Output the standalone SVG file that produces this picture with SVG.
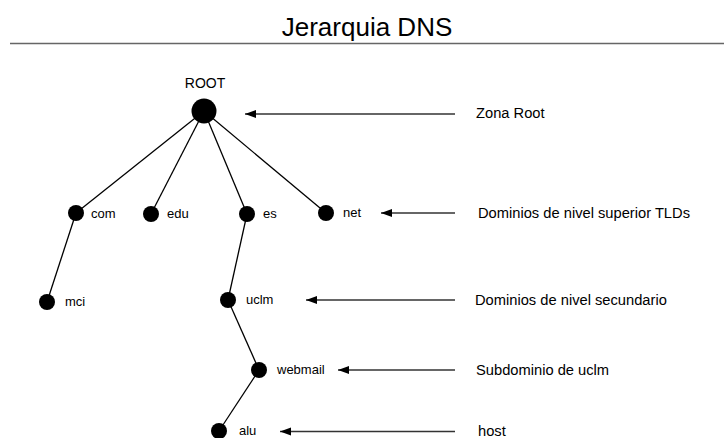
<svg xmlns="http://www.w3.org/2000/svg" width="724" height="438" viewBox="0 0 724 438">
<style>
text{font-family:"Liberation Sans",Arial,sans-serif;fill:#000}
.t{font-size:26px}
.n{font-size:13px}
.r{font-size:14px}
.l{font-size:14.7px}
.dot{fill:#000}
.edge{stroke:#000;stroke-width:1.3;fill:none}
.arr{stroke:#333;stroke-width:1.5;fill:none;marker-end:url(#ah)}
</style>
<defs>
<marker id="ah" markerUnits="userSpaceOnUse" markerWidth="12" markerHeight="10" refX="11" refY="5" orient="auto">
<path d="M0,1 L11,5 L0,9 Z" fill="#000"/>
</marker>
</defs>
<rect width="724" height="438" fill="#fff"/>
<g id="title">
<text class="t" x="367" y="36" text-anchor="middle">Jerarquia DNS</text>
<line x1="10" y1="43.5" x2="724" y2="43.5" stroke="#666" stroke-width="1.6"/>
</g>
<g id="connectors">
<line class="edge" x1="204" y1="111" x2="76" y2="213"/>
<line class="edge" x1="204" y1="111" x2="151" y2="214"/>
<line class="edge" x1="204" y1="111" x2="247" y2="214"/>
<line class="edge" x1="204" y1="111" x2="326" y2="213"/>
<line class="edge" x1="76" y1="213" x2="47" y2="302"/>
<line class="edge" x1="247" y1="214" x2="228" y2="300"/>
<line class="edge" x1="228" y1="300" x2="259" y2="370"/>
<line class="edge" x1="259" y1="370" x2="219" y2="431"/>
<line class="arr" x1="455" y1="114" x2="245" y2="114"/>
<line class="arr" x1="455" y1="213" x2="381" y2="213"/>
<line class="arr" x1="455" y1="300" x2="306" y2="300"/>
<line class="arr" x1="455" y1="370" x2="338" y2="370"/>
<line class="arr" x1="455" y1="431.5" x2="280" y2="431.5"/>
</g>
<g id="root"><circle class="dot" cx="204" cy="111" r="12.5"/><text class="r" x="205" y="88" text-anchor="middle">ROOT</text></g>
<g id="com"><circle class="dot" cx="76" cy="213" r="8"/><text class="n" x="91" y="218">com</text></g>
<g id="edu"><circle class="dot" cx="151" cy="214" r="8"/><text class="n" x="167" y="218">edu</text></g>
<g id="es"><circle class="dot" cx="247" cy="214" r="8"/><text class="n" x="263" y="218">es</text></g>
<g id="net"><circle class="dot" cx="326" cy="213" r="8"/><text class="n" x="343" y="217">net</text></g>
<g id="mci"><circle class="dot" cx="47" cy="302" r="8"/><text class="n" x="65" y="306">mci</text></g>
<g id="uclm"><circle class="dot" cx="228" cy="300" r="8"/><text class="n" x="246" y="304">uclm</text></g>
<g id="webmail"><circle class="dot" cx="259" cy="370" r="8"/><text class="n" x="277" y="374">webmail</text></g>
<g id="alu"><circle class="dot" cx="219" cy="431" r="8"/><text class="n" x="239" y="435">alu</text></g>
<g id="labels">
<text class="l" x="476" y="118">Zona Root</text>
<text class="l" x="478" y="218">Dominios de nivel superior TLDs</text>
<text class="l" x="475" y="305">Dominios de nivel secundario</text>
<text class="l" x="476" y="375">Subdominio de uclm</text>
<text class="l" x="478" y="436">host</text>
</g>
</svg>
